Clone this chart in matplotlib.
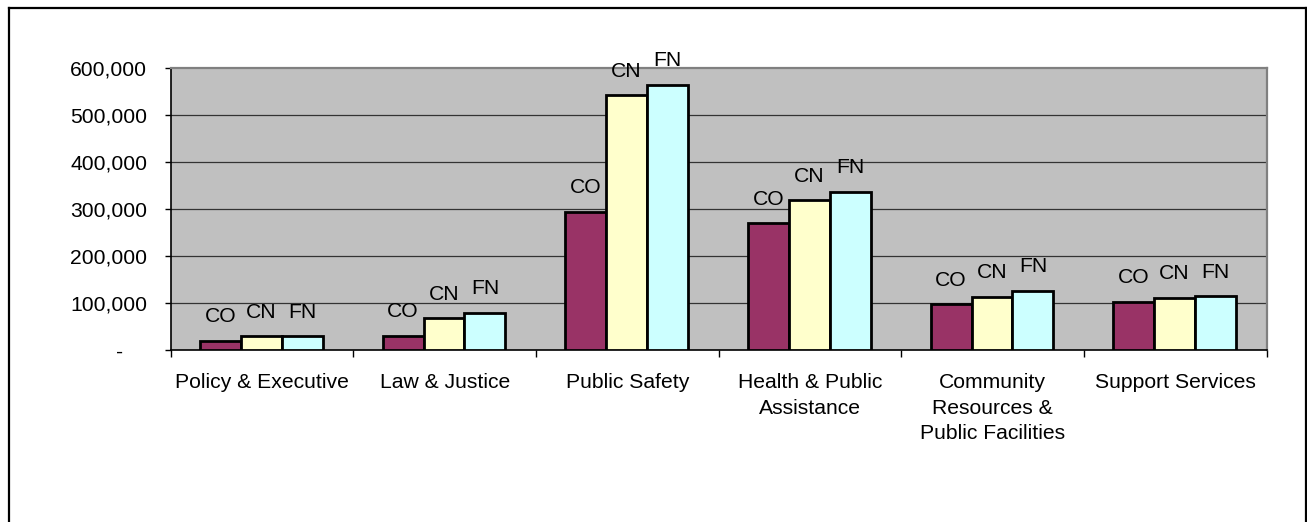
import matplotlib
matplotlib.use("Agg")
import matplotlib.pyplot as plt
from matplotlib.lines import Line2D
from matplotlib.ticker import FuncFormatter, FixedLocator
import numpy as np

plt.rcParams['font.family'] = ['Liberation Sans', 'DejaVu Sans']

categories = ["Policy & Executive", "Law & Justice", "Public Safety",
              "Health & Public\nAssistance",
              "Community\nResources &\nPublic Facilities",
              "Support Services"]
series_names = ["CO", "CN", "FN"]
co_values = [20000, 30000, 294000, 269000, 97000, 103000]
cn_values = [29000, 67000, 541000, 318000, 113000, 110000]
fn_values = [29000, 78000, 564000, 336000, 125000, 114000]
series_values = [co_values, cn_values, fn_values]
series_colors = ["#993366", "#FFFFCC", "#CCFFFF"]
y_ticks = [0, 100000, 200000, 300000, 400000, 500000, 600000]

W, H, DPI = 1307, 522, 100
FS = 15.2
fig = plt.figure(figsize=(W / DPI, H / DPI), dpi=DPI)
fig.patch.set_facecolor("white")

ax = fig.add_axes([170.7 / W, 172 / H, (1266.7 - 170.7) / W, (350 - 67.7) / H])
ax.set_facecolor("#C0C0C0")

n = len(categories)
bar_w = 0.224
centers = np.arange(n) + 0.496
for k, (name, vals, col) in enumerate(zip(series_names, series_values, series_colors)):
    xs = centers + (k - 1) * bar_w
    ax.bar(xs, vals, width=bar_w, color=col, edgecolor="black", linewidth=2.0, zorder=3)
    for x, v in zip(xs, vals):
        ax.annotate(name, (x, v), xytext=(0, 17.5), textcoords="offset points",
                    ha="center", va="center", fontsize=FS, color="black",
                    zorder=5, annotation_clip=False)

ax.set_xlim(0, n)
ax.set_ylim(0, 600000)

# gridlines
for t in y_ticks[1:-1]:
    ax.axhline(t, color="#333333", linewidth=0.9, zorder=1)

# y axis
ax.yaxis.set_major_locator(FixedLocator(y_ticks))
ax.yaxis.set_major_formatter(FuncFormatter(lambda v, p: "-    " if v == 0 else f"{int(v):,}"))
ax.tick_params(axis="y", length=4, width=1, color="black", pad=13, labelsize=FS)

# x axis: ticks at category boundaries, labels at centers
ax.xaxis.set_major_locator(FixedLocator(np.arange(n + 1)))
ax.xaxis.set_major_formatter(FuncFormatter(lambda v, p: ""))
ax.xaxis.set_minor_locator(FixedLocator(np.arange(n) + 0.5))
ax.set_xticklabels(categories, minor=True)
ax.tick_params(axis="x", which="major", length=5, width=1, color="black", direction="out")
ax.tick_params(axis="x", which="minor", length=0, pad=16.5, labelsize=FS)
for lbl in ax.get_xticklabels(minor=True):
    lbl.set_linespacing(1.45)

for side in ("left", "bottom"):
    ax.spines[side].set_color("black")
    ax.spines[side].set_linewidth(1.2)
for side in ("top", "right"):
    ax.spines[side].set_color("#808080")
    ax.spines[side].set_linewidth(1.6)

# outer chart frame
fx0, fx1 = 8.5 / W, 1305.5 / W
fy1 = 1 - 7.5 / H
for xs_, ys_ in (([fx0, fx0], [-0.05, fy1]), ([fx0, fx1], [fy1, fy1]), ([fx1, fx1], [fy1, -0.05])):
    fig.add_artist(Line2D(xs_, ys_, transform=fig.transFigure, color="black", linewidth=1.6))

fig.savefig("out.png", dpi=DPI)
